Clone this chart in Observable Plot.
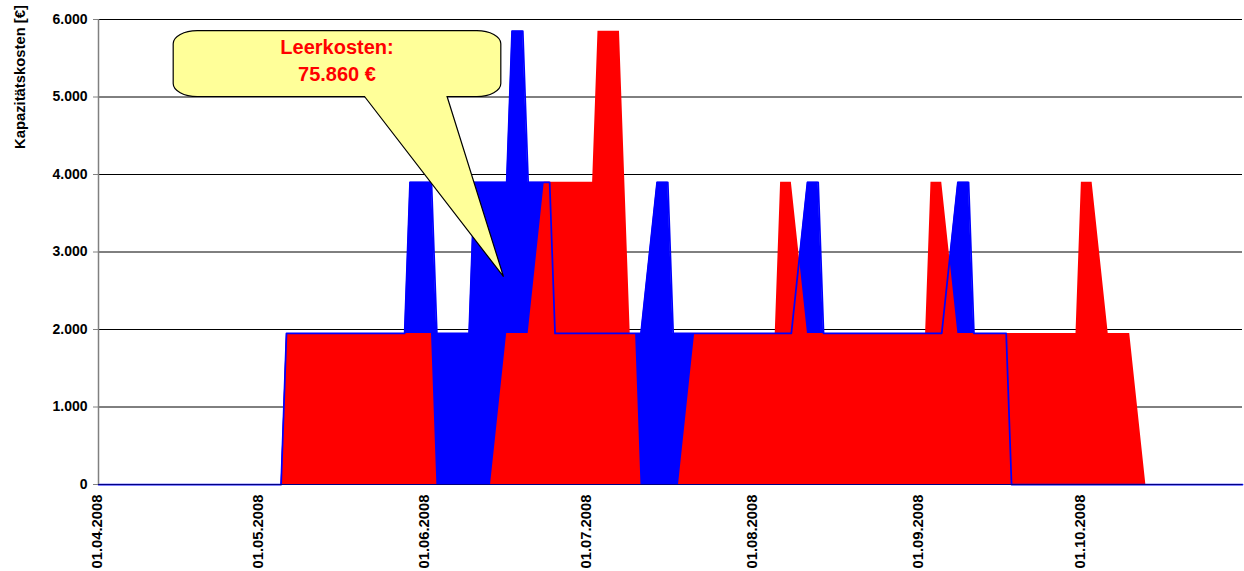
<!DOCTYPE html>
<html>
<head>
<meta charset="utf-8">
<script src="https://cdn.jsdelivr.net/npm/d3@7"></script>
<script src="https://cdn.jsdelivr.net/npm/@observablehq/plot@0.6"></script>
<style>
  html, body { margin: 0; padding: 0; background: #fff; }
  #chart svg { display: block; }
  #chart svg text { font-family: Arial, "Liberation Sans", sans-serif; font-weight: bold; fill: #000; }
</style>
</head>
<body>
<div id="chart"></div>
<script>
// ---- data ----
const blueDates = ["2008-04-01","2008-05-05","2008-05-06","2008-05-28","2008-05-29","2008-06-02","2008-06-03","2008-06-09","2008-06-10","2008-06-16","2008-06-17","2008-06-19","2008-06-20","2008-06-24","2008-06-25","2008-07-11","2008-07-14","2008-07-16","2008-07-17","2008-08-08","2008-08-11","2008-08-13","2008-08-14","2008-09-05","2008-09-08","2008-09-10","2008-09-11","2008-09-17","2008-09-18","2008-10-31"];
const blueValues = [0,0,1950,1950,3900,3900,1950,1950,3900,3900,5850,5850,3900,3900,1950,1950,3900,3900,1950,1950,3900,3900,1950,1950,3900,3900,1950,1950,0,0];

const redDates = ["2008-04-01","2008-05-05","2008-05-06","2008-06-02","2008-06-03","2008-06-13","2008-06-16","2008-06-20","2008-06-23","2008-07-02","2008-07-03","2008-07-07","2008-07-09","2008-07-10","2008-07-11","2008-07-18","2008-07-21","2008-08-05","2008-08-06","2008-08-08","2008-08-11","2008-09-02","2008-09-03","2008-09-05","2008-09-08","2008-09-30","2008-10-01","2008-10-03","2008-10-06","2008-10-10","2008-10-13","2008-10-31"];
const redValues = [0,0,1950,1950,0,0,1950,1950,3900,3900,5850,5850,1950,1950,0,0,1950,1950,3900,3900,1950,1950,3900,3900,1950,1950,3900,3900,1950,1950,0,0];

const xTickDates = ["2008-04-01","2008-05-01","2008-06-01","2008-07-01","2008-08-01","2008-09-01","2008-10-01"];
const yTicks = [0,1000,2000,3000,4000,5000,6000];
const xStart = "2008-04-01", xEnd = "2008-10-31";
const yTitle = "Kapazitätskosten [€]";
const calloutLines = ["Leerkosten:", "75.860 €"];

// ---- build tables ----
const blue = blueDates.map((d, i) => ({date: new Date(d), value: blueValues[i]}));
const red = redDates.map((d, i) => ({date: new Date(d), value: redValues[i]}));
const fmtY = v => v === 0 ? "0" : d3.format(",")(v).replace(/,/g, ".");
const fmtX = d3.utcFormat("%d.%m.%Y");

const svg = Plot.plot({
  width: 1244,
  height: 571,
  marginLeft: 98,
  marginRight: 2,
  marginTop: 19,
  marginBottom: 87,
  style: {fontFamily: "Arial, 'Liberation Sans', sans-serif", background: "#fff", overflow: "visible"},
  x: {type: "utc", domain: [new Date(xStart), new Date(xEnd)]},
  y: {domain: [0, 6000]},
  marks: [
    Plot.gridY(yTicks, {stroke: "#000", strokeOpacity: 1, strokeWidth: 1}),
    Plot.areaY(blue, {x: "date", y: "value", fill: "#0000FF"}),
    Plot.areaY(red, {x: "date", y: "value", fill: "#FF0000"}),
    Plot.line(blue, {x: "date", y: "value", stroke: "#0000FF", strokeWidth: 1.75}),
    Plot.ruleY([0], {stroke: "#000080", strokeWidth: 1}),
    Plot.ruleX([new Date(xStart)], {stroke: "#808080", strokeWidth: 1.5}),
    Plot.axisY(yTicks, {tickFormat: fmtY, tickSize: 5, tickPadding: 6, fontSize: 14, fontWeight: "bold", label: null, stroke: "#808080"}),
    Plot.axisX(xTickDates.map(d => new Date(d)), {tickFormat: fmtX, tickRotate: -90, tickSize: 0, tickPadding: 10, fontSize: 14.8, fontWeight: "bold", label: null, dx: -1.5})
  ]
});

document.getElementById("chart").appendChild(svg);

// ---- callout annotation, placed through the plot's scales ----
const sx = svg.scale("x"), sy = svg.scale("y");
const X = d => sx.apply(new Date(d)), Y = v => sy.apply(v);
const x1 = X("2008-04-15"), x2 = X("2008-06-15"), y1 = Y(5850), y2 = Y(5000);
const bx1 = x1 + (x2 - x1) * 0.584, bx2 = x1 + (x2 - x1) * 0.836;
const tx = X("2008-06-15T12:00:00Z"), ty = Y(2675);
const rx = 24, ry = 13;
const path = `M${x1+rx},${y1} H${x2-rx} A${rx},${ry} 0 0 1 ${x2},${y1+ry} V${y2-ry} A${rx},${ry} 0 0 1 ${x2-rx},${y2} H${bx2} L${tx},${ty} L${bx1},${y2} H${x1+rx} A${rx},${ry} 0 0 1 ${x1},${y2-ry} V${y1+ry} A${rx},${ry} 0 0 1 ${x1+rx},${y1} Z`;
const s = d3.select(svg);
s.append("path").attr("d", path).attr("fill", "#FFFF99").attr("stroke", "#000").attr("stroke-width", 1.2);
const cx = (x1 + x2) / 2;
s.append("text").attr("x", cx).attr("y", y1 + 23).attr("text-anchor", "middle")
  .style("fill", "#FF0000").style("font-size", "20px").style("font-weight", "bold").text(calloutLines[0]);
s.append("text").attr("x", cx).attr("y", y1 + 50).attr("text-anchor", "middle")
  .style("fill", "#FF0000").style("font-size", "20px").style("font-weight", "bold").text(calloutLines[1]);

// ---- y-axis title ----
s.append("text").attr("transform", "translate(24.5,149) rotate(-90)").attr("text-anchor", "start")
  .style("font-size", "14.8px").style("font-weight", "bold").text(yTitle);
</script>
</body>
</html>
